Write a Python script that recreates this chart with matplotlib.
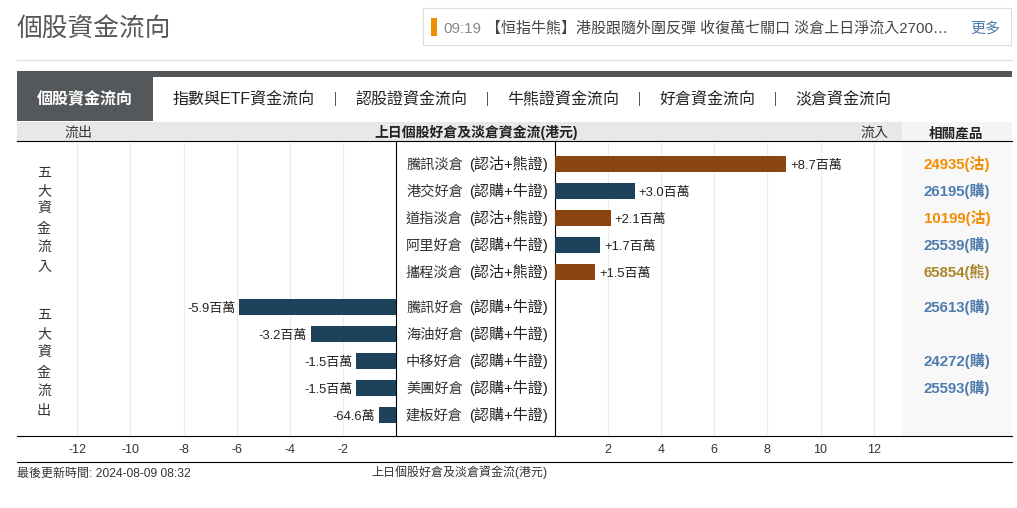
import matplotlib
matplotlib.use('Agg')
import matplotlib.pyplot as plt
from matplotlib.patches import Rectangle

plt.rcParams['font.family'] = ['Liberation Sans', 'Noto Sans CJK TC']

W, H = 1017, 508
PX = 0.72  # css px -> pt at dpi 100

# data
in_names = ['騰訊淡倉', '港交好倉', '道指淡倉', '阿里好倉', '攜程淡倉']
in_types = ['(認沽+熊證)', '(認購+牛證)', '(認沽+熊證)', '(認購+牛證)', '(認沽+熊證)']
in_values = [8.7, 3.0, 2.1, 1.7, 1.5]
in_labels = ['+8.7百萬', '+3.0百萬', '+2.1百萬', '+1.7百萬', '+1.5百萬']
in_products = ['24935(沽)', '26195(購)', '10199(沽)', '25539(購)', '65854(熊)']

out_names = ['騰訊好倉', '海油好倉', '中移好倉', '美團好倉', '建板好倉']
out_types = ['(認購+牛證)', '(認購+牛證)', '(認購+牛證)', '(認購+牛證)', '(認購+牛證)']
out_values = [-5.9, -3.2, -1.5, -1.5, -0.646]
out_labels = ['-5.9百萬', '-3.2百萬', '-1.5百萬', '-1.5百萬', '-64.6萬']
out_products = ['25613(購)', '', '24272(購)', '25593(購)', '']

left_ticks = [-12, -10, -8, -6, -4, -2]
right_ticks = [2, 4, 6, 8, 10, 12]
tabs = ['指數與ETF資金流向', '認股證資金流向', '牛熊證資金流向', '好倉資金流向', '淡倉資金流向']
tab_x = [173, 355.5, 507.5, 659, 795]
sep_x = [335, 487, 639, 775]

NAVY = '#1d435c'
BROWN = '#8b4510'
product_colors = {'沽': '#f28c00', '購': '#4f7cac', '熊': '#a8862a'}

fig = plt.figure(figsize=(W / 100, H / 100), dpi=100, facecolor='white')

# page furniture drawn in pixel coords
bg = fig.add_axes([0, 0, 1, 1], zorder=0)
bg.set_xlim(0, W)
bg.set_ylim(H, 0)
bg.axis('off')


def box(x0, y0, x1, y1, **kw):
    bg.add_patch(Rectangle((x0, y0), x1 - x0, y1 - y0, linewidth=kw.pop('lw', 0), **kw))


def txt(x, y, s, size, color='#333333', ha='left', weight='normal'):
    # baseline anchoring, mixed fonts jump around with va='center'
    bg.text(x, y + 0.37 * size, s, fontsize=size * PX, color=color, ha=ha, va='baseline', weight=weight)


txt(17, 27, '個股資金流向', 25.7, color='#55585b', weight='medium')
box(423, 8, 1011, 45, facecolor='white', edgecolor='#dddddd', lw=0.8)
box(431, 18, 437, 36, facecolor='#f28c00')
txt(443, 27, '09:19', 15, color='#888888')
txt(486, 27, '【恒指牛熊】港股跟隨外圍反彈 收復萬七關口 淡倉上日淨流入2700…', 15, color='#444444')
txt(970, 27, '更多', 15, color='#4f7cac')
bg.plot([17, 1012], [60, 60], color='#dddddd', lw=0.8)

box(17, 71, 1012, 77, facecolor='#55585b')
box(17, 71, 153, 121, facecolor='#55585b')
txt(85, 98, '個股資金流向', 16, color='white', ha='center', weight='bold')
for x, s in zip(tab_x, tabs):
    txt(x, 97.5, s, 16, color='#222222')
for x in sep_x:
    bg.plot([x, x], [92, 105], color='#555555', lw=0.7)

box(17, 122, 902, 141, facecolor='#e8e8e8')
box(902, 122, 1012, 141, facecolor='#f5f5f5')
box(902, 142, 1012, 436, facecolor='#f8f8f8')
txt(64, 132, '流出', 14)
txt(476, 132, '上日個股好倉及淡倉資金流(港元)', 13.9, color='#222222', ha='center', weight='bold')
txt(860, 132.5, '流入', 14)
txt(956, 132, '相關產品', 13.6, color='#222222', ha='center', weight='bold')

for s, ys in [('五大資金流入', [172, 190, 208, 228, 247, 266]),
              ('五大資金流出', [314, 333, 352, 372, 391, 410])]:
    for ch, y in zip(s, ys):
        txt(44, y, ch, 14, ha='center')

txt(17, 472, '最後更新時間: 2024-08-09 08:32', 12)
txt(459, 472, '上日個股好倉及淡倉資金流(港元)', 12, ha='center')

# bars: row step is 27px, outflow group sits 1.3 rows under the inflow group
in_y = list(range(len(in_values)))
out_y = [i + 5.3 for i in range(len(out_values))]
TOP, BOT = 142, 436
Y0 = 164
ylim = ((BOT - Y0) / 27, (TOP - Y0) / 27)
SCALE = 26.55  # px per million


def make_axes(x0, x1):
    ax = fig.add_axes([x0 / W, 1 - BOT / H, (x1 - x0) / W, (BOT - TOP) / H], zorder=1)
    ax.patch.set_alpha(0)
    ax.set_ylim(*ylim)
    ax.set_yticks([])
    for sp in ax.spines.values():
        sp.set_visible(False)
    ax.grid(axis='x', color='#ececec', lw=0.8)
    ax.set_axisbelow(True)
    ax.tick_params(axis='x', length=0, pad=5.7, labelsize=12.5 * PX, labelcolor='#333333')
    return ax


ax_l = make_axes(17, 396)
ax_l.set_xlim(-(396 - 17) / SCALE, 0)
ax_l.set_xticks(left_ticks)
ax_l.set_xticklabels([str(t) for t in left_ticks])
ax_r = make_axes(555, 902)
ax_r.set_xlim(0, (902 - 555) / SCALE)
ax_r.set_xticks(right_ticks)
ax_r.set_xticklabels([str(t) for t in right_ticks])

in_colors = [BROWN if '淡' in n else NAVY for n in in_names]
ax_r.barh(in_y, in_values, height=16 / 27, color=in_colors, zorder=2)
ax_l.barh(out_y, out_values, height=16 / 27, color=NAVY, zorder=2)

LABEL_PX = 13
for y, v, s in zip(in_y, in_values, in_labels):
    ax_r.annotate(s, (v, y), xytext=(4 * PX, -0.37 * LABEL_PX * PX), textcoords='offset points', va='baseline',
                  ha='left', fontsize=LABEL_PX * PX, color='#222222', weight='medium')
for y, v, s in zip(out_y, out_values, out_labels):
    ax_l.annotate(s, (v, y), xytext=(-4 * PX, -0.37 * LABEL_PX * PX), textcoords='offset points', va='baseline',
                  ha='right', fontsize=LABEL_PX * PX, color='#222222', weight='medium')

# row names and product codes, same rows as the bars
for y, name, kind, prod in zip(in_y + out_y, in_names + out_names, in_types + out_types,
                               in_products + out_products):
    py = Y0 + y * 27 - 0.7
    txt(406, py, name, 14.2, color='#333333')
    txt(548.5, py, kind, 15, color='#222222', ha='right', weight='medium')
    if prod:
        txt(957, py, prod, 15, color=product_colors[prod[-2]], ha='center', weight='bold')

# frame lines
bg.plot([17, 1012], [141, 141], color='black', lw=0.8)
bg.plot([17, 1012], [436, 436], color='black', lw=0.8)
bg.plot([17, 1012], [462, 462], color='black', lw=0.8)
for x in [396, 555]:
    bg.plot([x, x], [141, 436], color='black', lw=0.8)

fig.savefig('out.png', dpi=100, facecolor='white')
plt.close(fig)
